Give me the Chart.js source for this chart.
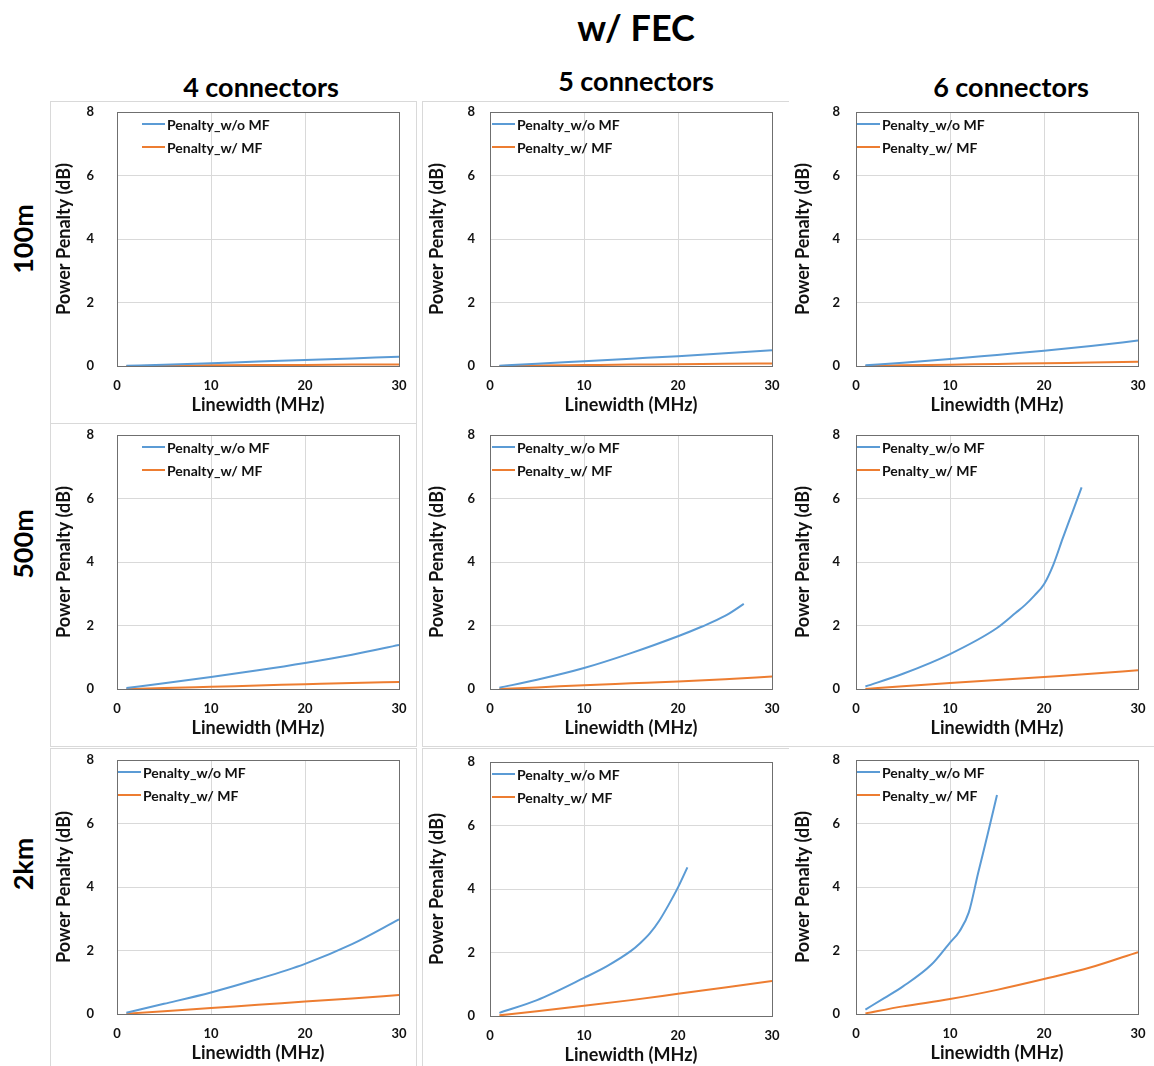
<!DOCTYPE html>
<html>
<head>
<meta charset="utf-8">
<script src="https://cdn.jsdelivr.net/npm/chart.js@4/dist/chart.umd.min.js"></script>
<style>
  html, body { margin: 0; padding: 0; background: #fff; }
  #wrap { position: relative; width: 1154px; height: 1066px; background: #fff; overflow: hidden; font-family: Lato, "Open Sans", sans-serif; }
  .ttl { position: absolute; font-weight: 700; color: #000; white-space: nowrap; transform: translate(-50%, -50%); }
  .rowlbl { position: absolute; font-weight: 700; color: #000; white-space: nowrap; transform: translate(-50%, -50%) rotate(-90deg); }
  .frame { position: absolute; box-sizing: border-box; border-color: #d9d9d9; border-style: solid; border-width: 0; }
  canvas { position: absolute; }
</style>
</head>
<body>
<div id="wrap"></div>
<script>
// ---------------- DATA ----------------
const mainTitle = 'w/ FEC';
const colLabels = ['4 connectors', '5 connectors', '6 connectors'];
const rowLabels = ['100m', '500m', '2km'];
const seriesLabels = ['Penalty_w/o MF', 'Penalty_w/ MF'];
const xAxisTitle = 'Linewidth (MHz)';
const yAxisTitle = 'Power Penalty (dB)';
const xTickMin = 0, xTickMax = 30, xTickStep = 10;
const yTickMin = 0, yTickMax = 8, yTickStep = 2;

// linewidth samples (MHz)
const lwCoarse = [1, 5, 10, 15, 20, 25, 30];

// 100 m
const woMF_100m_4c = [0.01, 0.04, 0.09, 0.14, 0.19, 0.24, 0.29];
const wMF_100m_4c  = [0.00, 0.01, 0.02, 0.03, 0.035, 0.045, 0.05];
const woMF_100m_5c = [0.01, 0.07, 0.15, 0.23, 0.31, 0.40, 0.50];
const wMF_100m_5c  = [0.00, 0.015, 0.03, 0.045, 0.055, 0.07, 0.08];
const woMF_100m_6c = [0.02, 0.10, 0.22, 0.35, 0.48, 0.63, 0.80];
const wMF_100m_6c  = [0.00, 0.02, 0.04, 0.065, 0.085, 0.11, 0.13];

// 500 m
const woMF_500m_4c = [0.03, 0.18, 0.38, 0.59, 0.82, 1.08, 1.39];
const wMF_500m_4c  = [0.00, 0.03, 0.07, 0.11, 0.15, 0.19, 0.22];
const lw_woMF_500m_5c = [1, 5, 10, 15, 20, 22.5, 25, 27];
const woMF_500m_5c = [0.04, 0.29, 0.66, 1.13, 1.66, 1.96, 2.30, 2.68];
const wMF_500m_5c  = [0.00, 0.05, 0.12, 0.18, 0.24, 0.31, 0.39];
const lw_woMF_500m_6c = [1, 5, 10, 15, 17, 18, 19, 20, 21, 22, 23, 24];
const woMF_500m_6c = [0.08, 0.48, 1.10, 1.92, 2.40, 2.65, 2.95, 3.30, 3.92, 4.75, 5.55, 6.35];
const wMF_500m_6c  = [0.00, 0.09, 0.19, 0.28, 0.38, 0.48, 0.59];

// 2 km
const woMF_2km_4c = [0.04, 0.32, 0.68, 1.10, 1.58, 2.20, 2.98];
const wMF_2km_4c  = [0.01, 0.09, 0.19, 0.29, 0.39, 0.49, 0.60];
const lw_woMF_2km_5c = [1, 5, 10, 12.5, 15, 16, 17, 18, 19, 20, 21];
const woMF_2km_5c = [0.10, 0.50, 1.20, 1.58, 2.05, 2.30, 2.60, 3.00, 3.50, 4.05, 4.68];
const wMF_2km_5c  = [0.02, 0.15, 0.32, 0.50, 0.70, 0.90, 1.10];
const lw_woMF_2km_6c = [1, 3, 5, 8, 10, 11, 12, 13, 14, 15];
const woMF_2km_6c = [0.14, 0.50, 0.87, 1.55, 2.25, 2.60, 3.20, 4.45, 5.65, 6.90];
const wMF_2km_6c  = [0.02, 0.24, 0.47, 0.76, 1.10, 1.47, 1.95];

// panel table built from the arrays above: [row][col] -> [[x, y] for w/o MF, [x, y] for w/ MF]
const panelData = [
  [[[lwCoarse, woMF_100m_4c], [lwCoarse, wMF_100m_4c]],
   [[lwCoarse, woMF_100m_5c], [lwCoarse, wMF_100m_5c]],
   [[lwCoarse, woMF_100m_6c], [lwCoarse, wMF_100m_6c]]],
  [[[lwCoarse, woMF_500m_4c], [lwCoarse, wMF_500m_4c]],
   [[lw_woMF_500m_5c, woMF_500m_5c], [lwCoarse, wMF_500m_5c]],
   [[lw_woMF_500m_6c, woMF_500m_6c], [lwCoarse, wMF_500m_6c]]],
  [[[lwCoarse, woMF_2km_4c], [lwCoarse, wMF_2km_4c]],
   [[lw_woMF_2km_5c, woMF_2km_5c], [lwCoarse, wMF_2km_5c]],
   [[lw_woMF_2km_6c, woMF_2km_6c], [lwCoarse, wMF_2km_6c]]]
];

// ---------------- LAYOUT / STYLE ----------------
const seriesColors = ['#5B9BD5', '#ED7D31'];
const FONT = 'Lato, "Open Sans", sans-serif';
const plotW = 282, plotH = 254;
const yAxisW = 70, xAxisH = 58, padTop = 14, padRight = 12;
const panelLayout = [
  [{l: 117, t: 112, lgx: 25, tp: 23}, {l: 490, t: 112, lgx: 2, tp: 15}, {l: 856, t: 112, lgx: 1, tp: 16}],
  [{l: 117, t: 435, lgx: 25, tp: 23}, {l: 490, t: 435, lgx: 2, tp: 15}, {l: 856, t: 435, lgx: 1, tp: 16}],
  [{l: 117, t: 760, lgx: 1, tp: 23},  {l: 490, t: 762, lgx: 2, tp: 15}, {l: 856, t: 760, lgx: 1, tp: 16}]
];
const titlePos = {x: 636, y: 27, size: 36};
const colTitlePos = [{x: 261, y: 86}, {x: 636, y: 80}, {x: 1011, y: 86}];
const rowTitlePos = [{x: 22, y: 239}, {x: 22, y: 544}, {x: 22, y: 864}];
const frames = [
  {l: 50, t: 101, w: 367, h: 323, b: '1px 1px 1px 1px'},
  {l: 50, t: 424, w: 367, h: 323, b: '0 1px 1px 1px'},
  {l: 50, t: 748, w: 367, h: 320, b: '1px 1px 0 1px'},
  {l: 422, t: 101, w: 367, h: 323, b: '1px 0 0 1px'},
  {l: 422, t: 424, w: 733, h: 323, b: '0 0 1px 1px'},
  {l: 422, t: 748, w: 367, h: 320, b: '1px 0 0 1px'}
];

const wrap = document.getElementById('wrap');
frames.forEach(f => {
  const d = document.createElement('div');
  d.className = 'frame';
  Object.assign(d.style, {left: f.l + 'px', top: f.t + 'px', width: f.w + 'px', height: f.h + 'px', borderWidth: f.b});
  wrap.appendChild(d);
});
function addText(cls, txt, x, y, size) {
  const d = document.createElement('div');
  d.className = cls;
  d.textContent = txt;
  Object.assign(d.style, {left: x + 'px', top: y + 'px', fontSize: size + 'px'});
  wrap.appendChild(d);
}
addText('ttl', mainTitle, titlePos.x, titlePos.y, titlePos.size);
colLabels.forEach((t, i) => addText('ttl', t, colTitlePos[i].x, colTitlePos[i].y, 27));
rowLabels.forEach((t, i) => addText('rowlbl', t, rowTitlePos[i].x, rowTitlePos[i].y, 27));

const framePlugin = {
  id: 'plotFrame',
  beforeDatasetsDraw(chart) {
    const {ctx, chartArea: a} = chart;
    ctx.save();
    ctx.strokeStyle = '#6f6f6f';
    ctx.lineWidth = 1;
    ctx.strokeRect(Math.round(a.left) + 0.5, Math.round(a.top) + 0.5, Math.round(a.right - a.left), Math.round(a.bottom - a.top));
    ctx.restore();
  }
};
const legendPlugin = {
  id: 'innerLegend',
  afterDraw(chart, args, opts) {
    const {ctx, chartArea: a} = chart;
    ctx.save();
    chart.data.datasets.forEach((ds, i) => {
      const x = a.left + opts.dx;
      const y = a.top + 12 + i * 23;
      ctx.strokeStyle = ds.borderColor;
      ctx.lineWidth = 2;
      ctx.beginPath();
      ctx.moveTo(x, y);
      ctx.lineTo(x + 23, y);
      ctx.stroke();
      ctx.fillStyle = '#111';
      ctx.font = 'bold 14px ' + FONT;
      ctx.textAlign = 'left';
      ctx.textBaseline = 'middle';
      ctx.fillText(ds.label, x + 25, y + 1);
    });
    ctx.restore();
  }
};
const zeroPad = s => { s.paddingLeft = 0; s.paddingRight = 0; s.paddingTop = 0; s.paddingBottom = 0; };

panelLayout.forEach((row, r) => row.forEach((p, c) => {
  const cv = document.createElement('canvas');
  const cw = plotW + yAxisW + padRight, ch = plotH + padTop + xAxisH;
  cv.width = cw; cv.height = ch;
  Object.assign(cv.style, {left: (p.l - yAxisW) + 'px', top: (p.t - padTop) + 'px', width: cw + 'px', height: ch + 'px'});
  wrap.appendChild(cv);
  const datasets = panelData[r][c].map((s, i) => ({
    label: seriesLabels[i],
    data: s[0].map((x, k) => ({x: x, y: s[1][k]})),
    borderColor: seriesColors[i],
    backgroundColor: seriesColors[i],
    borderWidth: 2,
    pointRadius: 0,
    fill: false,
    cubicInterpolationMode: 'monotone'
  }));
  new Chart(cv, {
    type: 'line',
    data: {datasets: datasets},
    plugins: [framePlugin, legendPlugin],
    options: {
      responsive: false,
      animation: false,
      layout: {padding: {left: 0, top: padTop, right: padRight, bottom: 0}},
      plugins: {legend: {display: false}, tooltip: {enabled: false}, innerLegend: {dx: p.lgx}},
      scales: {
        x: {
          type: 'linear', min: xTickMin, max: xTickMax,
          ticks: {stepSize: xTickStep, color: '#111', font: {family: FONT, size: 13, weight: 'bold'}, padding: 12, maxRotation: 0},
          grid: {color: '#d9d9d9', drawTicks: false, lineWidth: 1},
          border: {display: false},
          title: {display: true, text: xAxisTitle, color: '#111', font: {family: FONT, size: 18, weight: 'bold'}, padding: {top: 0, bottom: 8}},
          afterFit: s => { s.height = xAxisH; zeroPad(s); }
        },
        y: {
          type: 'linear', min: yTickMin, max: yTickMax,
          ticks: {stepSize: yTickStep, color: '#111', font: {family: FONT, size: 13, weight: 'bold'}, padding: p.tp},
          grid: {color: '#d9d9d9', drawTicks: false, lineWidth: 1},
          border: {display: false},
          title: {display: true, text: yAxisTitle, color: '#111', font: {family: FONT, size: 18, weight: 'bold'}, padding: {top: 6, bottom: 0}},
          afterFit: s => { s.width = yAxisW; zeroPad(s); }
        }
      }
    }
  });
}));
</script>
</body>
</html>
